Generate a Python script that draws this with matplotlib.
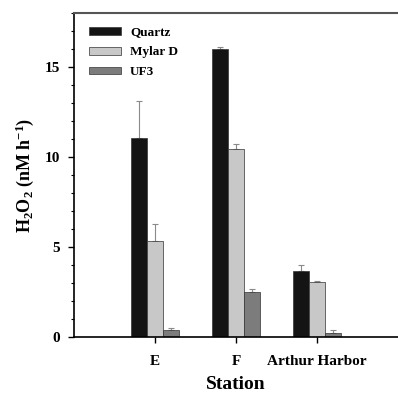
import numpy as np
import matplotlib.pyplot as plt
from matplotlib.ticker import MultipleLocator

plt.rcParams['font.family'] = ['Liberation Serif', 'DejaVu Serif']
plt.rcParams['font.weight'] = 'bold'
plt.rcParams['mathtext.fontset'] = 'custom'
plt.rcParams['mathtext.rm'] = 'Liberation Serif:bold'
plt.rcParams['mathtext.bf'] = 'Liberation Serif:bold'
plt.rcParams['mathtext.it'] = 'Liberation Serif:bold'
plt.rcParams['mathtext.default'] = 'bf'

# H2O2 production rates per station and filter type
stations = ['E', 'F', 'Arthur Harbor']
filters = ['Quartz', 'Mylar D', 'UF3']
quartz = [11.05, 16.0, 3.68]
quartz_err = [2.05, 0.1, 0.32]
mylar = [5.35, 10.45, 3.05]
mylar_err = [0.95, 0.27, 0.06]
uf3 = [0.39, 2.48, 0.24]
uf3_err = [0.1, 0.19, 0.13]

colors = ['#141414', '#c8c8c8', '#7c7c7c']

fig = plt.figure(figsize=(3.98, 3.96), dpi=100)
ax = fig.add_axes([0.186, 0.149, 0.814, 0.818])

x = np.arange(1, len(stations) + 1)
w = 0.2
series = [(quartz, quartz_err), (mylar, mylar_err), (uf3, uf3_err)]
for i, (vals, errs) in enumerate(series):
    pos = x + (i - 1) * w
    ax.bar(pos, vals, width=w, color=colors[i], edgecolor='#333333',
           linewidth=0.5, label=filters[i], zorder=2)
    ax.errorbar(pos, vals, yerr=[np.zeros(len(errs)), errs], fmt='none',
                ecolor='#8a8a8a', elinewidth=0.8, capsize=2.5, capthick=0.8,
                zorder=1)

ax.set_xlim(0, 4.0)
ax.set_ylim(0, 18)
ax.set_xticks(x)
ax.set_xticklabels(stations)
ax.yaxis.set_major_locator(MultipleLocator(5))
ax.yaxis.set_minor_locator(MultipleLocator(1))
ax.tick_params(axis='both', direction='out', labelsize=11, width=1, length=4)
ax.tick_params(axis='y', which='minor', direction='out', length=2.5, width=0.8)
ax.tick_params(axis='x', pad=9)
ax.tick_params(axis='y', pad=6)

ax.spines['right'].set_visible(False)
for s in ['left', 'bottom']:
    ax.spines[s].set_linewidth(1.2)
ax.spines['top'].set_linewidth(1.5)
ax.spines['top'].set_color('#555555')

ax.set_xlabel('Station', fontsize=14, fontweight='bold', labelpad=6)
ax.set_ylabel(r'H$_2$O$_2$ (nM h$^{-1}$)', fontsize=13, fontweight='bold',
              labelpad=6)

ax.legend(loc='upper left', frameon=False, fontsize=9.5, handlelength=2.4,
          handleheight=0.5, labelspacing=0.6, handletextpad=0.7,
          borderaxespad=0.5, bbox_to_anchor=(0.01, 0.995))

fig.savefig('out.png', dpi=100)
